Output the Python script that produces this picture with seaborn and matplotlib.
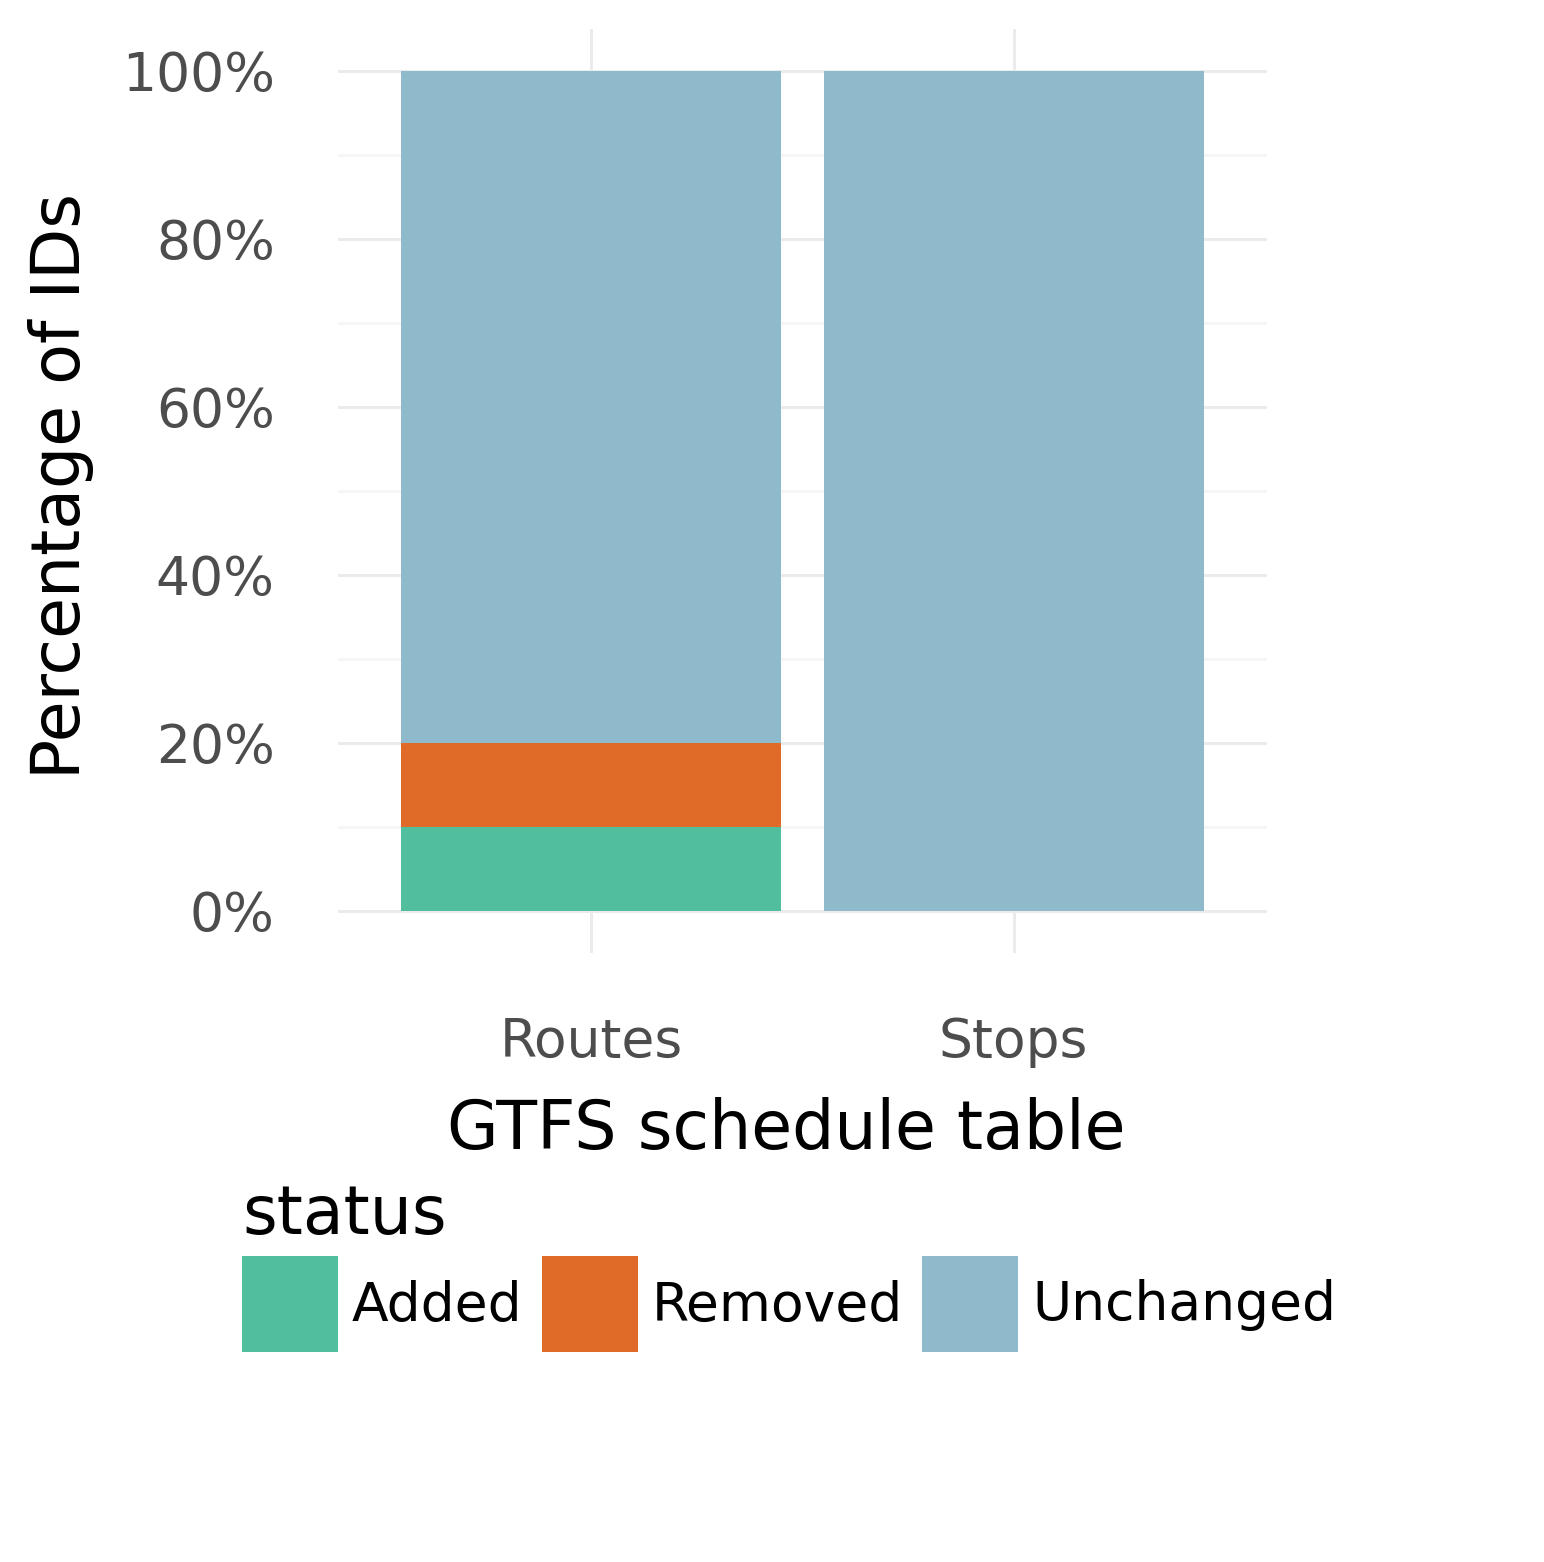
import matplotlib
matplotlib.use("Agg")
import matplotlib.pyplot as plt
from matplotlib.patches import Patch
from matplotlib.ticker import MultipleLocator, FuncFormatter
import pandas as pd
import seaborn as sns

# data (percent of IDs per table)
tables = ["Routes", "Stops"]
statuses = ["Added", "Removed", "Unchanged"]
added = [10, 0]
removed = [10, 0]
unchanged = [80, 100]

colors = {"Added": "#51BF9D", "Removed": "#E06A27", "Unchanged": "#8EBACB"}

df = pd.DataFrame({"table": tables, "Added": added, "Removed": removed, "Unchanged": unchanged})
# cumulative tops so the bars can be layered into a stack
df["top_Unchanged"] = df["Added"] + df["Removed"] + df["Unchanged"]
df["top_Removed"] = df["Added"] + df["Removed"]
df["top_Added"] = df["Added"]

sns.set_style("white")
plt.rcParams["font.family"] = ["DejaVu Sans"]

fig = plt.figure(figsize=(15.44, 15.62), dpi=100)
ax = fig.add_axes([338 / 1544, 1 - 953 / 1562, 929 / 1544, 924 / 1562])

for st in ["Unchanged", "Removed", "Added"]:
    sns.barplot(data=df, x="table", y="top_" + st, color=colors[st], width=0.9,
                saturation=1, linewidth=0, ax=ax, zorder=2, order=tables)

ax.set_xlim(-0.6, 1.6)
ax.set_ylim(-5, 105)
ax.yaxis.set_major_locator(MultipleLocator(20))
ax.yaxis.set_minor_locator(MultipleLocator(10))
ax.yaxis.set_major_formatter(FuncFormatter(lambda v, p: f"{v:.0f}%"))
ax.grid(which="major", color="#EBEBEB", lw=2.1, zorder=0)
ax.grid(which="minor", axis="y", color="#F5F5F5", lw=2.0, zorder=0)
ax.set_axisbelow(True)
for s in ax.spines.values():
    s.set_visible(False)
ax.tick_params(axis="both", which="both", length=0, labelsize=38.5, labelcolor="#4D4D4D")
ax.tick_params(axis="y", pad=45.5)
ax.tick_params(axis="x", pad=45)

ax.set_xlabel("GTFS schedule table", fontsize=48, color="black")
ax.set_ylabel("Percentage of IDs", fontsize=48, color="black")
ax.xaxis.set_label_coords(0.483, -0.156)
ax.yaxis.set_label_coords(-0.263, 0.505)

handles = [Patch(facecolor=colors[s], edgecolor="none") for s in statuses]
leg = fig.legend(handles, statuses, title="status", loc="upper left",
                 bbox_to_anchor=(242 / 1544, 1 - 1182 / 1562), ncol=3, frameon=False,
                 fontsize=38.5, title_fontsize=48, handlelength=1.795, handleheight=2.385,
                 handletextpad=0.26, columnspacing=0.36, borderpad=0, borderaxespad=0,
                 labelspacing=0.15, alignment="left")
for t in leg.get_texts():
    t.set_color("black")
leg.get_title().set_color("black")

fig.savefig("out.png", dpi=100)
